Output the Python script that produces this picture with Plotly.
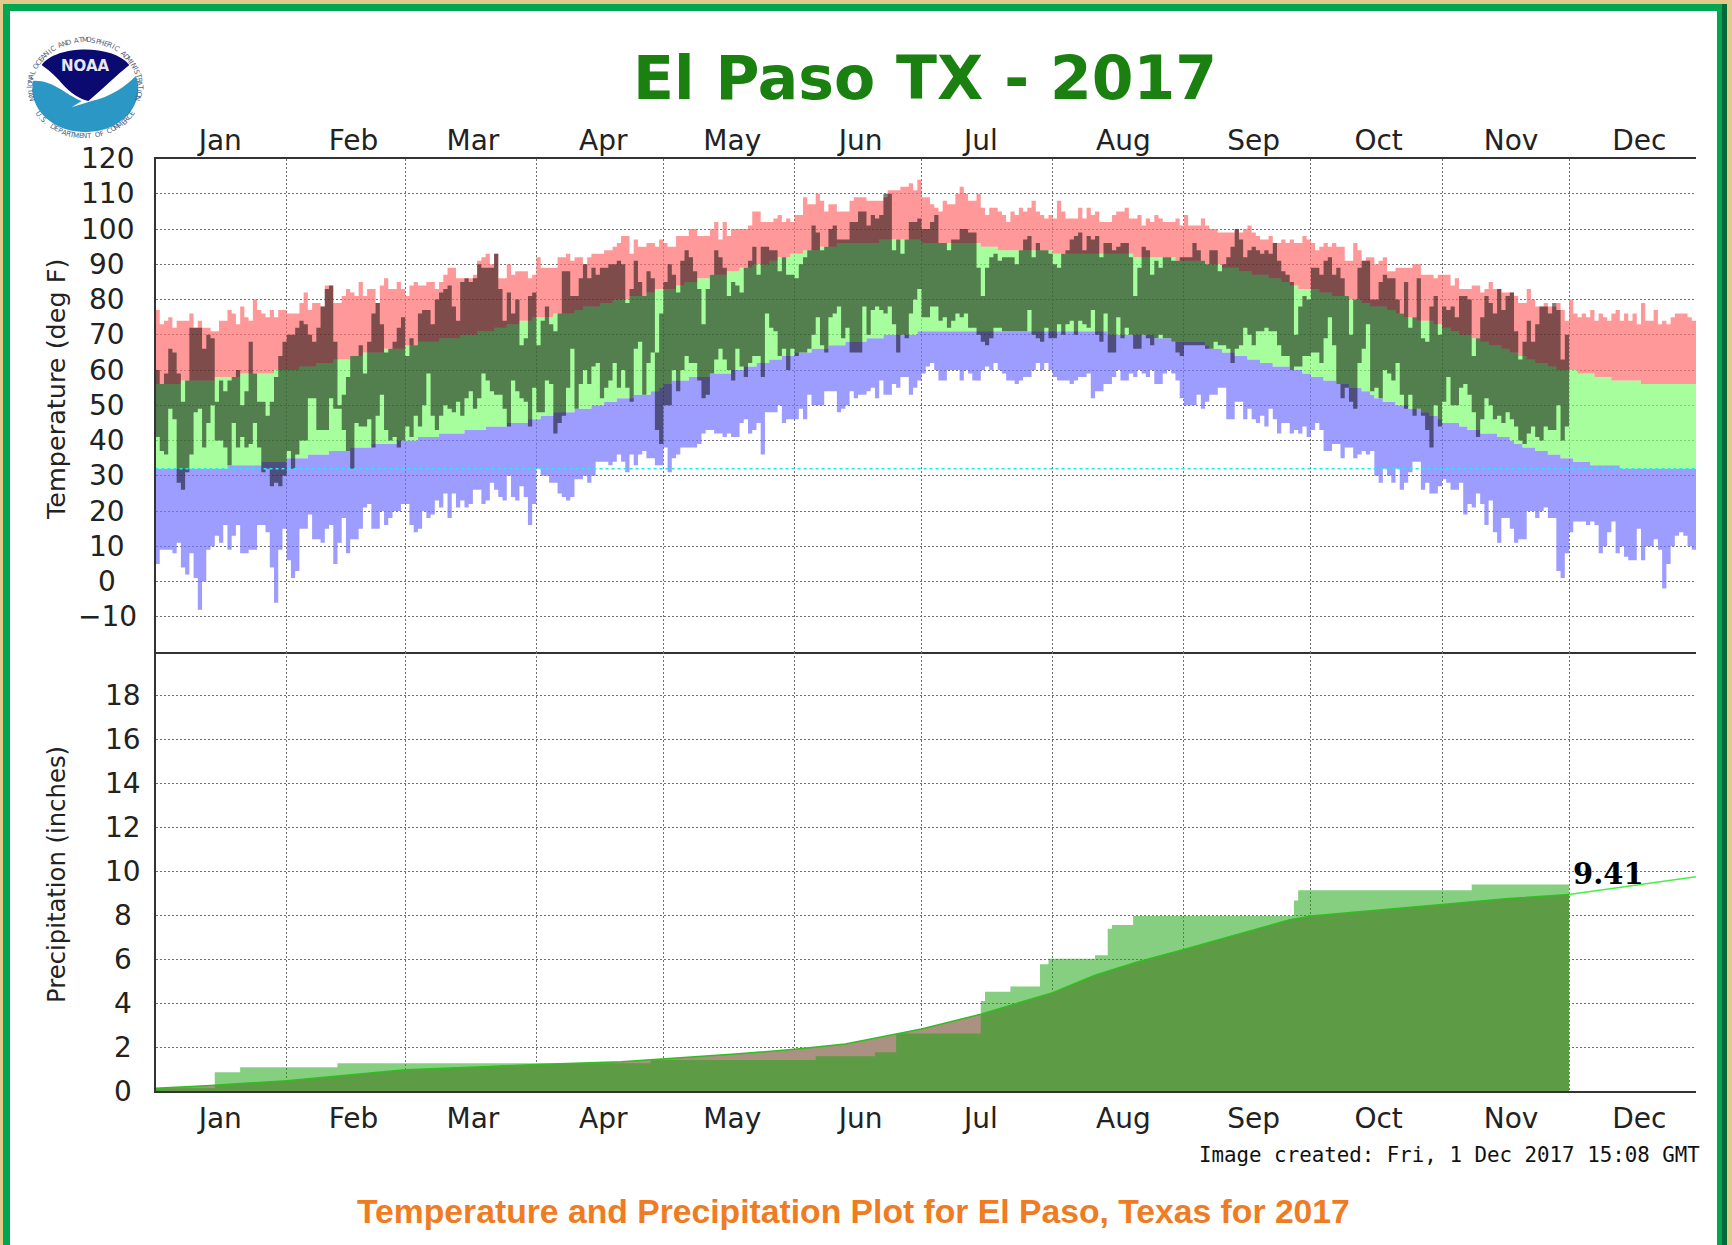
import math
import numpy as np
import pandas as pd
import plotly.graph_objects as go

W, H = 1732, 1245

# ---- daily temperature values (deg F), read month by month ----
record_high = [
 77,73,74,75,72,74,74,74,76,72,74,72,72,71,71,74,74,77,76,73,78,75,74,80,77,76,75,77,75,77,77,
 76,76,76,79,82,77,79,79,78,84,84,79,79,81,83,82,81,85,81,83,83,79,84,86,83,83,85,83,
 81,84,85,84,84,85,85,83,85,87,89,89,86,86,86,86,87,91,92,93,90,93,86,86,90,87,88,88,88,86,87,
 92,89,89,89,89,92,92,93,91,92,92,90,92,93,93,93,94,94,95,96,98,98,93,97,95,95,96,96,95,97,
 96,95,95,98,98,98,100,100,98,98,98,100,102,97,102,98,100,100,100,100,101,105,105,102,102,102,103,104,102,103,102,
 104,104,109,107,107,110,108,105,107,107,105,105,105,108,109,109,109,108,108,108,108,109,111,111,111,112,112,113,111,114,
 109,109,107,106,105,108,107,107,110,112,110,108,108,110,106,104,106,106,105,104,102,105,104,106,105,106,108,105,104,103,104,
 103,108,105,103,103,103,106,103,106,104,105,102,102,102,104,105,105,106,103,103,104,101,103,102,104,103,102,102,102,103,101,
 104,101,101,101,103,101,100,100,99,99,99,99,100,99,100,101,99,98,97,97,98,96,96,97,96,97,96,96,98,97,
 96,94,95,96,95,96,95,95,91,91,96,94,91,92,92,90,91,92,88,88,89,89,89,89,90,90,87,87,87,86,87,
 87,87,84,86,83,83,83,84,84,82,83,85,83,83,82,82,82,81,79,79,83,80,78,78,79,78,78,79,77,74,
 80,76,75,76,75,77,74,76,75,74,76,77,74,76,74,76,73,79,74,74,77,73,74,73,75,76,76,76,75,74,
]
record_low = [
 5,9,9,9,8,11,4,2,8,1,-8,0,9,10,13,11,16,9,13,16,8,8,9,9,16,16,14,4,-6,9,15,
 6,1,3,15,15,19,12,12,11,15,16,5,11,18,8,12,12,15,21,22,15,15,20,16,18,20,20,22,
 22,16,14,15,20,18,19,23,21,25,18,25,21,23,21,22,26,26,22,23,28,26,24,23,30,24,23,27,24,16,22,
 32,30,30,28,28,25,24,23,24,29,29,30,28,30,34,34,34,33,34,36,34,31,36,33,36,37,35,35,33,33,
 38,31,35,36,38,38,38,38,39,42,43,43,42,42,41,42,41,41,45,46,42,43,45,36,48,48,48,50,45,46,46,
 46,49,46,53,50,50,50,54,54,54,48,49,50,54,52,53,53,54,55,52,57,53,53,56,55,58,58,53,55,57,
 59,61,62,60,57,57,60,60,60,57,60,59,57,57,60,61,60,62,60,59,57,57,56,57,58,58,60,62,60,62,60,
 58,57,57,57,56,57,58,58,59,52,54,54,56,56,58,60,57,57,59,58,60,59,58,60,56,56,59,60,59,57,52,
 50,50,50,53,49,51,53,53,55,55,46,46,51,51,46,49,46,45,47,44,49,46,42,45,45,42,43,42,44,41,
 43,45,43,37,37,39,39,35,38,38,35,36,37,36,37,30,28,32,30,28,32,26,28,31,34,34,26,28,25,25,27,
 29,28,26,26,28,19,22,21,25,22,16,23,14,11,18,18,15,11,12,12,20,20,18,20,21,18,18,3,1,8,
 14,17,17,17,16,17,16,8,10,14,17,8,10,7,6,6,15,6,10,10,12,9,-2,5,10,13,14,13,10,9,
]
observed_high = [
 60,56,59,66,65,59,51,57,72,72,72,66,70,69,51,57,54,57,58,60,50,54,68,59,51,51,47,51,58,64,68,
 70,70,72,74,73,70,68,72,78,83,84,68,50,53,58,64,64,67,59,68,76,79,73,65,66,68,72,75,
 64,69,67,76,77,77,73,80,82,83,84,78,74,85,86,85,86,90,89,89,89,93,83,74,82,76,80,67,69,81,82,
 67,74,78,73,71,76,88,88,81,81,86,90,86,89,87,89,89,90,90,91,90,79,83,91,85,81,88,86,65,76,
 85,90,87,82,91,94,92,88,83,73,83,87,94,92,89,81,85,84,82,89,91,95,87,95,95,94,94,88,92,87,87,
 86,90,92,94,101,99,94,95,100,101,97,97,97,102,102,105,105,101,104,103,104,110,110,94,97,93,97,102,102,103,
 100,100,102,104,96,96,94,97,97,100,100,99,99,89,81,89,92,93,91,92,92,92,90,94,97,98,92,96,94,94,93,
 90,89,93,94,97,98,99,94,98,97,98,92,96,96,94,95,96,96,92,81,89,95,94,87,91,89,92,92,91,91,92,
 92,92,96,94,91,90,94,94,88,90,92,95,100,97,92,94,95,94,93,94,93,96,91,88,87,85,70,78,81,80,
 89,89,87,91,92,87,89,86,81,70,80,89,91,91,80,80,85,87,86,86,80,76,85,72,75,86,69,68,78,81,70,
 78,77,78,75,81,81,80,64,69,75,81,79,76,83,77,81,82,71,63,68,74,68,73,78,78,76,79,77,63,70,
]
observed_low = [
 41,37,36,49,46,28,26,31,36,48,49,38,45,50,40,40,38,33,45,38,41,38,39,45,38,31,32,27,28,27,30,
 37,32,36,40,40,52,52,43,43,43,52,49,49,43,37,32,45,44,44,46,38,47,53,43,40,41,38,40,
 44,41,47,44,50,59,47,43,47,50,49,48,51,47,52,54,49,52,59,57,54,53,53,49,44,57,54,52,51,44,55,
 48,48,57,56,42,45,47,55,66,49,56,60,56,61,62,52,55,57,62,55,60,55,51,66,68,53,62,65,43,39,
 50,50,60,54,60,64,62,62,57,52,53,59,63,66,63,60,57,66,61,58,62,64,64,58,76,72,71,64,66,60,66,
 64,65,65,66,70,75,67,65,75,76,78,69,72,65,65,65,78,70,77,78,77,76,78,73,65,70,69,76,80,83,
 75,75,78,78,74,75,72,74,76,75,76,72,72,70,68,67,69,72,72,71,71,71,71,71,71,77,70,69,68,72,69,
 69,73,70,73,74,70,74,73,72,77,70,68,76,65,65,75,69,72,70,66,66,70,69,67,69,70,69,69,68,65,64,
 67,67,67,67,67,66,66,68,67,67,66,62,66,67,72,70,67,71,71,72,71,71,67,64,64,60,61,61,64,64,
 65,65,62,69,75,67,56,52,55,51,49,62,66,73,54,55,52,60,59,57,62,53,49,53,47,49,47,43,38,50,44,
 51,58,50,50,55,56,53,48,41,46,52,50,46,47,45,48,46,44,40,39,42,44,41,40,44,43,43,50,40,44,
]
# normals are whole degrees held for runs of days: value, then number of days
normal_high_vals = [56,57,58,59,60,61,62,63,64,65,66,67,68,69,70,71,72,73,74,75,76,77,78,79,80,81,82,83,84,85,86,87,88,89,90,91,92,93,94,95,96,97,96,95,94,93,92,91,90,89,88,87,86,85,84,83,82,81,80,79,78,77,76,75,74,73,72,71,70,69,68,67,66,65,64,63,62,61,60,59,58,57,56]
normal_high_days = [6,8,6,8,6,4,4,4,3,5,5,3,5,5,4,4,3,3,3,5,5,2,4,3,4,4,2,5,2,3,3,4,3,3,4,2,3,3,4,4,10,10,14,4,13,19,10,7,4,4,3,4,3,2,2,5,3,4,3,2,4,2,2,3,4,2,2,2,3,2,2,3,2,2,2,2,3,2,5,4,4,7,13]
normal_low_vals = [32,33,34,35,36,37,38,39,40,41,42,43,44,45,46,47,48,49,50,51,52,53,54,55,56,57,58,59,60,61,62,63,64,65,66,67,68,69,70,71,70,69,68,67,66,65,64,63,62,61,60,59,58,57,56,55,54,53,52,51,50,49,48,47,46,45,44,43,42,41,40,39,38,37,36,35,34,33,32]
normal_low_days = [17,8,6,5,5,5,5,6,5,5,6,5,5,5,3,3,5,4,3,3,4,4,2,1,2,4,5,5,3,3,3,3,3,4,4,4,5,4,8,45,11,4,8,1,3,3,3,3,3,4,3,2,3,3,3,3,2,1,2,3,3,3,2,2,1,4,2,3,4,3,1,2,3,3,3,3,4,7,18]
freezing = [32, 32]

# ---- cumulative precipitation (inches) ----
normal_dates = ["2017-01-01","2017-01-13","2017-02-01","2017-02-15","2017-03-01","2017-03-21","2017-04-01","2017-04-21","2017-05-01","2017-05-18","2017-06-01","2017-06-13","2017-06-25","2017-07-01","2017-07-15","2017-08-01","2017-08-11","2017-08-21","2017-09-01","2017-09-14","2017-09-26","2017-10-01","2017-10-16","2017-11-01","2017-11-16","2017-12-01","2017-12-31"]
normal_precip = [0.12,0.24,0.47,0.73,0.97,1.12,1.21,1.33,1.45,1.68,1.90,2.14,2.60,2.82,3.50,4.48,5.27,5.88,6.45,7.14,7.80,7.97,8.24,8.50,8.76,8.95,9.76]
observed_dates = ["2017-01-01","2017-01-15","2017-01-21","2017-02-13","2017-04-28","2017-06-06","2017-06-20","2017-06-25","2017-07-15","2017-07-16","2017-07-22","2017-07-29","2017-07-31","2017-08-11","2017-08-14","2017-08-15","2017-08-20","2017-09-27","2017-09-28","2017-11-08","2017-12-01"]
observed_precip = [0.12,0.85,1.08,1.26,1.41,1.58,1.76,2.62,4.10,4.52,4.76,5.77,6.03,6.18,7.39,7.56,7.97,8.68,9.15,9.41,9.41]

month_range = ["2017-01-01", "2017-12-31"]
month_names = ["Jan","Feb","Mar","Apr","May","Jun","Jul","Aug","Sep","Oct","Nov","Dec"]
month_label_at = ["2017-01-16 07:00","2017-02-16 19:00","2017-03-17 00:00","2017-04-16 19:00","2017-05-17 07:00","2017-06-16 14:00",
                  "2017-07-15 00:00","2017-08-17 17:00","2017-09-17 12:00","2017-10-17 00:00","2017-11-17 07:00","2017-12-17 14:00"]
temp_ticks = [-10,0,10,20,30,40,50,60,70,80,90,100,110,120]
precip_ticks = [0,2,4,6,8,10,12,14,16,18]

normal_high = np.repeat(normal_high_vals, normal_high_days).tolist()
normal_low = np.repeat(normal_low_vals, normal_low_days).tolist()
for name, s, n in [("rh",record_high,364),("rl",record_low,364),("oh",observed_high,334),("ol",observed_low,334),("nh",normal_high,364),("nl",normal_low,364)]:
    assert len(s) == n, (name, len(s))

days = pd.date_range("2017-01-01", periods=365).strftime("%Y-%m-%d").tolist()
full_x = days                 # 364 days plus closing edge
obs_x = days[:335]

def closed(series):
    return list(series) + [series[-1]]

PINK = "rgba(255,109,109,0.7)"
GREEN = "rgba(128,255,114,0.7)"
BLUE = "rgba(116,116,255,0.7)"
OBS = "rgba(0,0,0,0.5)"
BROWN = "#aa9182"
OBS_RAIN = "rgba(27,164,15,0.53)"
GRID = "#707070"
DOT = "2px,2px"
AXIS = "#333333"
INK = "#222222"
TICK_FONT = dict(family="DejaVu Sans", size=28, color=INK)

fig = go.Figure()

def band(x, y, fill=None, color=None):
    fig.add_trace(go.Scatter(x=x, y=y, mode="lines", line=dict(shape="hv", width=0),
                             fill=fill if fill else "none", fillcolor=color,
                             xaxis="x", yaxis="y", hoverinfo="skip", showlegend=False))

band(full_x, closed(record_low))
band(full_x, closed(normal_low), "tonexty", BLUE)
band(full_x, closed(normal_high), "tonexty", GREEN)
band(full_x, closed(record_high), "tonexty", PINK)
band(obs_x, closed(observed_low))
band(obs_x, closed(observed_high), "tonexty", OBS)
fig.add_trace(go.Scatter(x=month_range, y=freezing, mode="lines",
                         line=dict(color="#19f0f0", width=1.5, dash="dot"),
                         xaxis="x", yaxis="y", hoverinfo="skip", showlegend=False))

i_dec = normal_dates.index("2017-12-01")
fig.add_trace(go.Scatter(x=normal_dates[:i_dec + 1], y=normal_precip[:i_dec + 1], mode="lines",
                         line=dict(width=0), fill="tozeroy", fillcolor=BROWN,
                         xaxis="x2", yaxis="y2", hoverinfo="skip", showlegend=False))
fig.add_trace(go.Scatter(x=observed_dates, y=observed_precip, mode="lines",
                         line=dict(shape="hv", width=0), fill="tozeroy", fillcolor=OBS_RAIN,
                         xaxis="x2", yaxis="y2", hoverinfo="skip", showlegend=False))
fig.add_trace(go.Scatter(x=normal_dates[:i_dec + 1], y=normal_precip[:i_dec + 1], mode="lines",
                         line=dict(color="#2fbf1f", width=1.5),
                         xaxis="x2", yaxis="y2", hoverinfo="skip", showlegend=False))
fig.add_trace(go.Scatter(x=normal_dates[i_dec:], y=normal_precip[i_dec:], mode="lines",
                         line=dict(color="#46f046", width=1.5),
                         xaxis="x2", yaxis="y2", hoverinfo="skip", showlegend=False))

def px_x(x): return x / W
def px_y(y): return 1 - y / H

dom_x = [155.5 / W, 1696 / W]
x_common = dict(type="date", range=month_range, tickmode="array", tickvals=month_label_at, ticktext=month_names,
                showgrid=False, ticks="", tickfont=TICK_FONT, showline=True,
                minor=dict(dtick="M1", tick0="2017-01-01", showgrid=True, griddash=DOT, gridcolor=GRID, gridwidth=1, ticks=""),
                linecolor=AXIS, linewidth=2, domain=dom_x, automargin=False)
y_common = dict(showgrid=True, griddash=DOT, gridcolor=GRID, gridwidth=1, zeroline=False,
                ticks="", showticklabels=False, showline=True, linecolor=AXIS, linewidth=2, automargin=False)

shapes = []
def rect(x0, y0, x1, y1, color):
    shapes.append(dict(type="rect", xref="paper", yref="paper", x0=px_x(x0), x1=px_x(x1),
                       y0=px_y(y0), y1=px_y(y1), fillcolor=color, line=dict(width=0), layer="above"))

# page frame
TAN = "#e3c98c"; FRAME = "#00a651"; DARK = "#00693a"
rect(0, 0, W, 4, TAN); rect(0, 0, 3, H, TAN); rect(1727, 0, W, H, TAN)
rect(3, 4, 1727, 11, FRAME); rect(3, 4, 10, H, FRAME); rect(1717, 4, 1722, H, FRAME); rect(1722, 4, 1727, H, DARK)

# NOAA emblem, drawn in crop coordinates of the emblem box
def lx(x): return 10 + x / 3
def ly(y): return 25 + y / 3
def path(cmds):
    out = []
    for c in cmds:
        pts = [f"{px_x(lx(c[i])):.5f},{px_y(ly(c[i + 1])):.5f}" for i in range(1, len(c), 2)]
        out.append(c[0] + " " + " ".join(pts))
    return " ".join(out) + " Z"

shapes.append(dict(type="circle", xref="paper", yref="paper", x0=px_x(lx(67)), x1=px_x(lx(385)),
                   y0=px_y(ly(60)), y1=px_y(ly(322)), fillcolor="#2a97c4", line=dict(width=0), layer="above"))
shapes.append(dict(type="path", xref="paper", yref="paper", layer="above", fillcolor="white", line=dict(width=0),
                   path=path([("M",60,50),("L",395,50),("L",395,135),("C",345,190,300,215,245,228),
                              ("L",185,247),("L",215,228),("C",160,205,125,160,60,168)])))
shapes.append(dict(type="path", xref="paper", yref="paper", layer="above", fillcolor="#0a0a70", line=dict(width=0),
                   path=path([("M",95,120),("C",140,58,310,58,358,120),("C",320,150,280,190,235,228),
                              ("C",215,225,180,205,155,175),("C",135,150,115,135,95,120)])))

annotations = [
    dict(text="El Paso TX - 2017", x=px_x(925), y=px_y(78), font=dict(family="DejaVu Sans", size=60, color="#1a800f", weight="bold")),
    dict(text="Temperature (deg F)", x=px_x(56), y=px_y(390), textangle=-90, font=dict(family="DejaVu Sans", size=25.5, color=INK)),
    dict(text="Precipitation (inches)", x=px_x(56), y=px_y(875), textangle=-90, font=dict(family="DejaVu Sans", size=24.3, color=INK)),
    dict(text="Temperature and Precipitation Plot for El Paso, Texas for 2017", x=px_x(853), y=px_y(1211),
         font=dict(family="Liberation Sans", size=33.7, color="#ef7c22", weight="bold")),
    dict(text="Image created: Fri, 1 Dec 2017 15:08 GMT", x=px_x(1702), y=px_y(1155), xanchor="right",
         font=dict(family="DejaVu Sans Mono", size=20.8, color="#111111")),
    dict(text="NOAA", x=px_x(lx(225)), y=px_y(ly(122)), font=dict(family="DejaVu Sans", size=15, color="#e8e8f4", weight="bold")),
]
for a in annotations:
    a.update(xref="paper", yref="paper", showarrow=False, yanchor="middle")
    a.setdefault("xanchor", "center")
annotations.append(dict(text="9.41", xref="x2", yref="y2", x="2017-12-01", y=9.9, xanchor="left", yanchor="middle", showarrow=False, xshift=2,
                        font=dict(family="DejaVu Serif", size=29, color="#000000", weight="bold")))

# y tick numbers are centred on a common column, as in the source plot
for t in temp_ticks:
    annotations.append(dict(text=("\u2212" + str(-t)) if t < 0 else str(t), xref="paper", yref="y", x=px_x(107), y=t,
                            xanchor="center", yanchor="middle", showarrow=False, font=TICK_FONT))
for t in precip_ticks:
    annotations.append(dict(text=str(t), xref="paper", yref="y2", x=px_x(123), y=t,
                            xanchor="center", yanchor="middle", showarrow=False, font=TICK_FONT))

def ring(text, start, end):
    cx, cy, rx, ry = lx(225), ly(190), 55, 48
    for i, ch in enumerate(text):
        if ch == " ":
            continue
        t = math.radians(start + (end - start) * i / (len(text) - 1))
        x, y = cx + rx * math.cos(t), cy - ry * math.sin(t)
        ang = 90 - math.degrees(t) if math.sin(t) > -0.05 else -90 - math.degrees(t)
        annotations.append(dict(text=ch, x=px_x(x), y=px_y(y), xref="paper", yref="paper", showarrow=False,
                                xanchor="center", yanchor="middle",
                                textangle=ang, font=dict(family="DejaVu Sans", size=7, color="#4d6280")))
ring("NATIONAL OCEANIC AND ATMOSPHERIC ADMINISTRATION", 192, -12)
ring("U.S. DEPARTMENT OF COMMERCE", 212, 328)

fig.update_layout(
    width=W, height=H, margin=dict(l=0, r=0, t=0, b=0, autoexpand=False), autosize=False,
    paper_bgcolor="white", plot_bgcolor="white", showlegend=False,
    xaxis=dict(x_common, anchor="y", side="top", mirror=True, ticklabelstandoff=-5),
    xaxis2=dict(x_common, anchor="y2", side="bottom", ticklabelstandoff=1),
    yaxis=dict(y_common, domain=[px_y(652), px_y(158.5)], anchor="x", range=[-20, 120], tickvals=temp_ticks),
    yaxis2=dict(y_common, domain=[px_y(1091), px_y(652)], anchor="x2", range=[0, 20], tickvals=precip_ticks),
    shapes=shapes, annotations=annotations,
)
fig.write_html("out.html", config={"displayModeBar": False},
               post_script="document.body.style.margin='0';document.documentElement.style.overflow='hidden';")
